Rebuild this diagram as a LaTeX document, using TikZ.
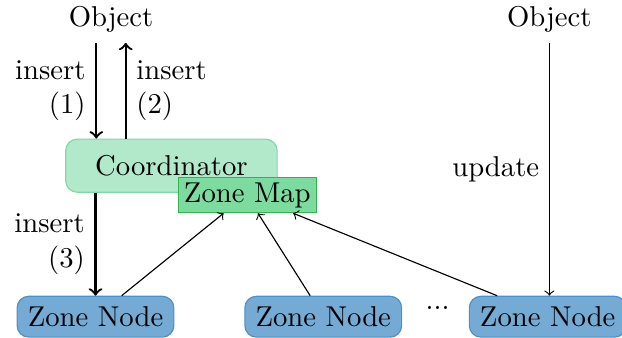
\documentclass[tikz,border=0pt]{standalone}
\usepackage{amsmath,amssymb}
\usepackage{tikz}
\usetikzlibrary{positioning}
\definecolor{coord green}{HTML}{B3E9CB}
\definecolor{coord line}{HTML}{80D9A2}
\definecolor{map green}{HTML}{7DDBA0}
\definecolor{map line}{HTML}{33B54A}
\definecolor{zone blue}{HTML}{74AAD4}
\definecolor{zone line}{HTML}{4D8FC8}

\begin{document}
\begin{tikzpicture}[
		coordbox/.style = {draw = coord line, fill = coord green, rounded corners = 4pt,
			minimum width = 2.59cm, minimum height = 0.65cm},
		mapbox/.style = {draw = map line, fill = map green, inner sep = 1pt,
			minimum width = 1.69cm, minimum height = 0.43cm},
		zonebox/.style = {draw = zone line, fill = zone blue, rounded corners = 4pt,
			minimum width = 1.92cm, minimum height = 0.50cm},
		bigarrow/.style = {->, thick},
		smallarrow/.style = {->}
	]
		\useasboundingbox (0, 0) rectangle (7.62, 4.14);
		% objects
		\node (objL) at (1.36, 3.90) {Object};
		\node (objR) at (6.73, 3.90) {Object};
		% coordinator and map
		\node[coordbox] (coord) at (2.10, 2.11) {Coordinator};
		\node[mapbox] (zmap) at (3.03, 1.75) {Zone Map};
		% zone nodes
		\node[zonebox] (zn1) at (1.17, 0.26) {Zone Node};
		\node[zonebox] (zn2) at (3.96, 0.26) {Zone Node};
		\node (dots) at (5.36, 0.37) {...};
		\node[zonebox] (zn3) at (6.71, 0.26) {Zone Node};
		% insert path
		\draw[bigarrow] ([xshift=-0.18cm]objL.south)
			-- ([xshift=-0.18cm]objL.south |- coord.north)
			node [midway, left, align=right] {insert\\(1)};
		\draw[bigarrow] ([xshift=0.18cm]objL.south |- coord.north)
			-- ([xshift=0.18cm]objL.south)
			node [midway, right, align=left] {insert\\(2)};
		\draw[bigarrow] (coord.south -| zn1.north) -- (zn1.north)
			node [midway, left, align=right] {insert\\(3)};
		% update path
		\draw[smallarrow] (objR.south) -- (objR.south |- zn3.north)
			node [midway, left] {update};
		% zone nodes to map
		\draw[smallarrow] ([xshift=0.32cm]zn1.north) -- ([xshift=-0.29cm]zmap.south);
		\draw[smallarrow] ([xshift=-0.16cm]zn2.north) -- ([xshift=0.13cm]zmap.south);
		\draw[smallarrow] ([xshift=-0.62cm]zn3.north) -- ([xshift=0.56cm]zmap.south);
	\end{tikzpicture}
\end{document}
